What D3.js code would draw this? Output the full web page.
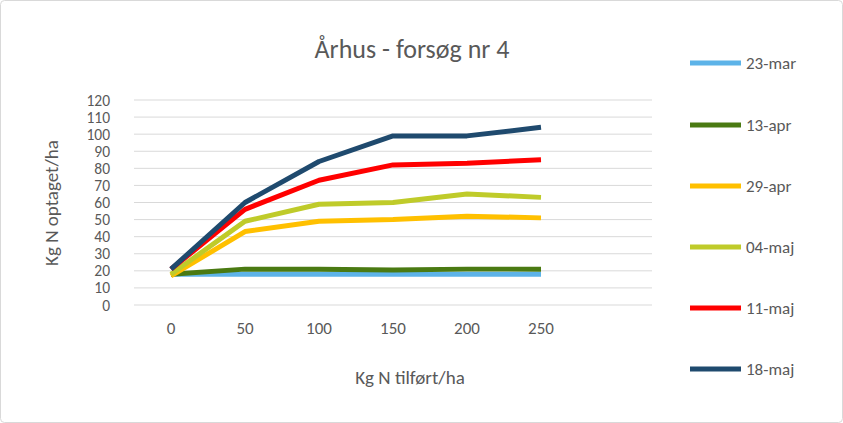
<!DOCTYPE html>
<html><head><meta charset="utf-8">
<script src="https://cdn.jsdelivr.net/npm/d3@7"></script>
<style>body{margin:0;background:#fff}text{font-family:Calibri,Carlito,"Liberation Sans",sans-serif;fill:#595959}</style>
</head><body><svg id="c" width="843" height="423"></svg>
<script>
const categories=["0","50","100","150","200","250",""];
const seriesNames=["23-mar","13-apr","29-apr","04-maj","11-maj","18-maj"];
const colors=["#5DB3E8","#4A7A12","#FFC000","#BFCB2A","#FF0000","#1F4A6E"];
const s23mar=[18,18,18,18,18,18];
const s13apr=[18,21,21,20.5,21,21];
const s29apr=[17,43,49,50,52,51];
const s04maj=[18,49,59,60,65,63];
const s11maj=[21,56,73,82,83,85];
const s18maj=[21,60,84,99,99,104];
const yTicks=[0,10,20,30,40,50,60,70,80,90,100,110,120];
const series=[s23mar,s13apr,s29apr,s04maj,s11maj,s18maj];

const svg=d3.select("#c");
svg.append("rect").attr("x",0.5).attr("y",0.5).attr("width",842).attr("height",422).attr("rx",4).attr("fill","#fff").attr("stroke","#D9D9D9");
const x=d3.scaleBand().domain(categories.map((c,i)=>i)).range([134,652]);
const y=d3.scaleLinear().domain([0,120]).range([305,100]);
const g=svg.append("g");
g.selectAll("line.g").data(yTicks).join("line").attr("x1",134).attr("x2",652)
 .attr("y1",d=>y(d)).attr("y2",d=>y(d)).attr("stroke","#D9D9D9");
g.selectAll("text.y").data(yTicks).join("text").attr("x",110).attr("y",d=>y(d)+5.5)
 .attr("text-anchor","end").attr("font-size",15.5).text(d=>d);
g.selectAll("text.x").data(categories).join("text").attr("x",(d,i)=>x(i)+x.bandwidth()/2)
 .attr("y",334).attr("text-anchor","middle").attr("font-size",17).text(d=>d);
const line=d3.line().x((d,i)=>x(i)+x.bandwidth()/2).y(d=>y(d));
series.forEach((s,k)=>g.append("path").datum(s).attr("d",line).attr("fill","none")
 .attr("stroke",colors[k]).attr("stroke-width",5).attr("stroke-linejoin","round"));
svg.append("text").attr("x",412).attr("y",58).attr("text-anchor","middle").attr("font-size",26).text("Århus - forsøg nr 4");
svg.append("text").attr("x",410).attr("y",384).attr("text-anchor","middle").attr("font-size",19).text("Kg N tilført/ha");
svg.append("text").attr("transform","translate(58,203) rotate(-90)").attr("text-anchor","middle").attr("font-size",19).text("Kg N optaget/ha");
const ly=[63,125,186,247,308,369];
seriesNames.forEach((n,k)=>{
 svg.append("line").attr("x1",690).attr("x2",741).attr("y1",ly[k]).attr("y2",ly[k]).attr("stroke",colors[k]).attr("stroke-width",5);
 svg.append("text").attr("x",746).attr("y",ly[k]+6).attr("font-size",17).text(n);
});
</script></body></html>
